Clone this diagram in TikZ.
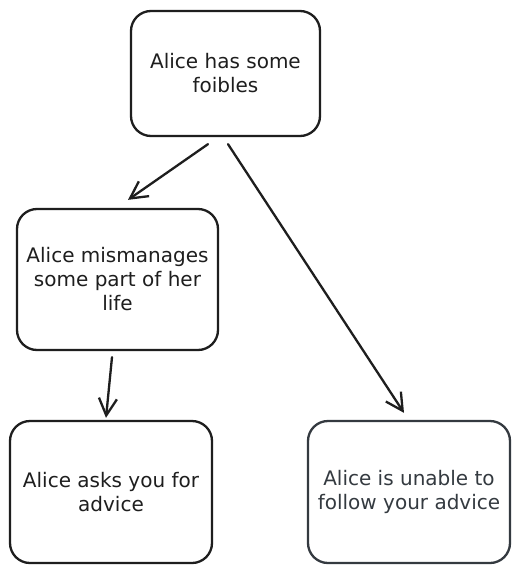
\documentclass[tikz,border=0pt]{standalone}
\usepackage{fontspec}
\setmainfont{DejaVu Sans}
\usetikzlibrary{arrows.meta}
\definecolor{ink}{HTML}{1E1E1E}
\definecolor{inkb}{HTML}{343A40}
\begin{document}
\begin{tikzpicture}[x=1pt,y=-1pt,
  box/.style={draw=ink, line width=2.3pt, rounded corners=20pt, align=center,
    text=ink, font=\fontsize{20pt}{24pt}\selectfont, inner sep=0pt},
  conn/.style={draw=ink, line width=2.3pt, line cap=round,
    -{Straight Barb[length=17pt,width=18pt,line width=2.3pt]}}]
\useasboundingbox[fill=white] (0,0) rectangle (521,573);
\node[box, minimum width=189pt, minimum height=125pt] (top) at (225.5,73.5) {Alice has some\\foibles};
\node[box, minimum width=201pt, minimum height=141pt] (mid) at (117.5,279.5) {Alice mismanages\\some part of her\\life};
\node[box, minimum width=202pt, minimum height=142pt] (bl) at (111,492) {Alice asks you for\\advice};
\node[box, draw=inkb, text=inkb, minimum width=202pt, minimum height=142pt] (br) at (409,492) {Alice is unable to\\follow your advice};
\draw[conn] ([xshift=-17.5pt,yshift=-7pt]top.south) -- ([xshift=10.5pt,yshift=8pt]mid.north);
\draw[conn] ([xshift=2.5pt,yshift=-7pt]top.south) -- ([xshift=-5pt,yshift=7pt]br.north);
\draw[conn] ([xshift=-5.5pt,yshift=-6pt]mid.south) -- ([xshift=-5pt,yshift=2pt]bl.north);
\end{tikzpicture}
\end{document}
